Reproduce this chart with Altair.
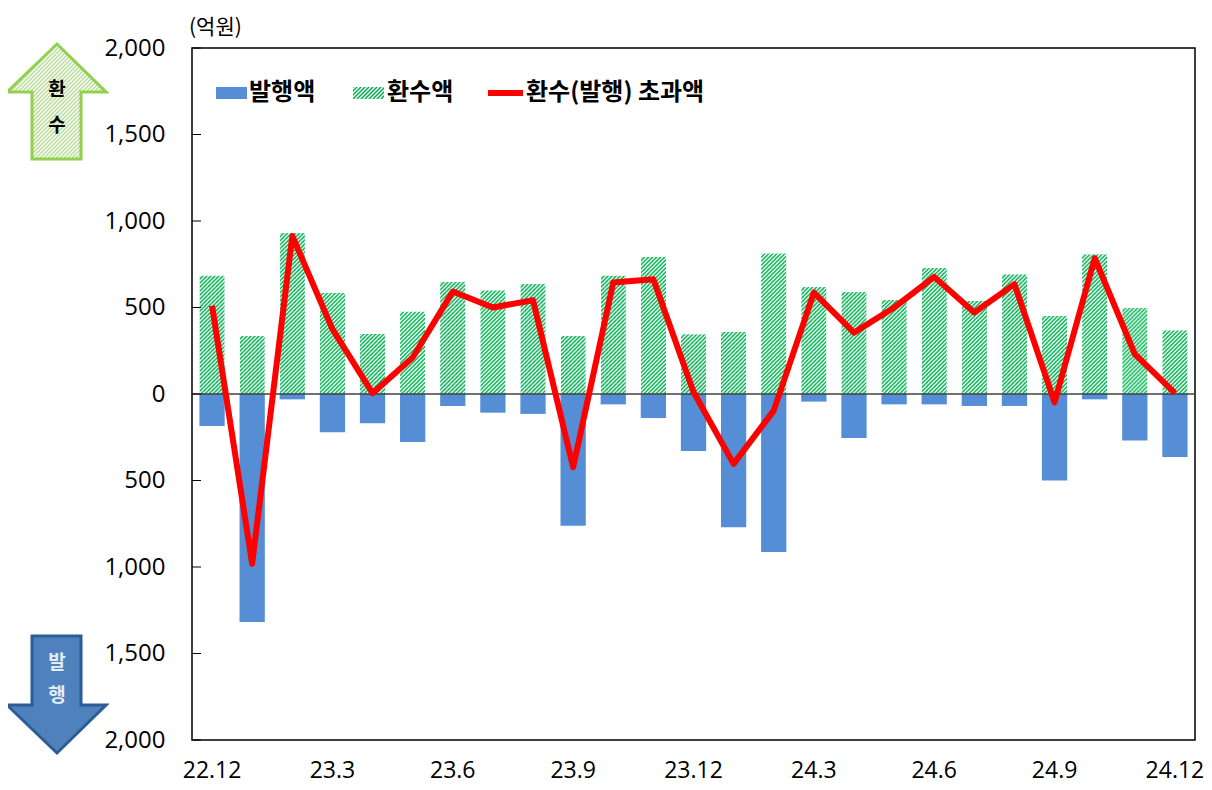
import altair as alt
import pandas as pd
from urllib.parse import quote

# ---- data ----
months = ["22.12", "23.1", "23.2", "23.3", "23.4", "23.5", "23.6", "23.7", "23.8", "23.9",
          "23.10", "23.11", "23.12", "24.1", "24.2", "24.3", "24.4", "24.5", "24.6", "24.7",
          "24.8", "24.9", "24.10", "24.11", "24.12"]
recall = [685, 338, 930, 585, 347, 477, 648, 600, 638, 338,
          685, 792, 346, 359, 813, 621, 592, 544, 730, 538,
          692, 452, 808, 500, 369]
issue = [-185, -1318, -31, -221, -169, -277, -69, -108, -115, -762,
         -60, -139, -329, -770, -914, -44, -254, -60, -60, -69,
         -69, -500, -31, -269, -364]
net = [510, -981, 913, 375, 5, 211, 592, 500, 542, -423,
       644, 663, 12, -404, -96, 586, 355, 500, 677, 471,
       635, -48, 785, 231, 5]

tick_values = [-2000, -1500, -1000, -500, 0, 500, 1000, 1500, 2000]
x_label_values = ["22.12", "23.3", "23.6", "23.9", "23.12", "24.3", "24.6", "24.9", "24.12"]
legend_labels = ["발행액", "환수액", "환수(발행) 초과액"]
unit_label = "(억원)"
up_text = ["환", "수"]
down_text = ["발", "행"]

df = pd.DataFrame({"month": months, "recall": recall, "issue": issue, "net": net})
ticks_df = pd.DataFrame({"v": tick_values})
one = pd.DataFrame({"a": [0]})

NUM_FONT = "Open Sans"
KR_FONT = "Noto Sans CJK KR"


def svg_url(s):
    return "data:image/svg+xml;charset=utf-8," + quote(s)


HATCH = svg_url(
    "<svg xmlns='http://www.w3.org/2000/svg' width='100%' height='100%'>"
    "<defs><pattern id='h' width='4' height='4' patternUnits='userSpaceOnUse'>"
    "<rect width='4' height='4' fill='#ffffff'/>"
    "<path d='M-1,1 l2,-2 M0,4 l4,-4 M3,5 l2,-2' stroke='#00b050' stroke-width='1.5'/>"
    "</pattern></defs><rect width='100%' height='100%' fill='url(#h)'/></svg>"
)
UP_ARROW = svg_url(
    "<svg xmlns='http://www.w3.org/2000/svg' width='104' height='121' viewBox='0 0 104 121'>"
    "<defs><pattern id='g' width='4' height='4' patternUnits='userSpaceOnUse'>"
    "<rect width='4' height='4' fill='#ffffff'/>"
    "<path d='M-1,1 l2,-2 M0,4 l4,-4 M3,5 l2,-2' stroke='#b9dc98' stroke-width='1.5'/>"
    "</pattern></defs>"
    "<polygon points='52,3 101,51 76,51 76,118 27,118 27,51 2,51' fill='url(#g)' "
    "stroke='#92d050' stroke-width='3'/></svg>"
)
DOWN_ARROW = svg_url(
    "<svg xmlns='http://www.w3.org/2000/svg' width='104' height='123' viewBox='0 0 104 123'>"
    "<polygon points='27,3 76,3 76,72 101,72 52,120 2,72 27,72' fill='#4f81bd' "
    "stroke='#2c5d96' stroke-width='3'/></svg>"
)

xscale = alt.Scale(domain=months, paddingInner=0.37, paddingOuter=0.185)
yscale = alt.Scale(domain=[-2000, 2000], nice=False, zero=False)

x_axis = alt.Axis(values=x_label_values, title=None, ticks=False, tickSize=0, domain=False,
                  labelAngle=0, labelFont=NUM_FONT, labelFontSize=23, labelColor="#000000",
                  labelPadding=30, labelBaseline="middle", grid=False)
y_axis = alt.Axis(values=tick_values, title=None, ticks=False, tickSize=0, domain=False,
                  labelExpr="format(abs(datum.value), ',')", labelFont=NUM_FONT,
                  labelFontSize=24, labelColor="#000000", labelPadding=27, grid=False)

X = alt.X("month:N", sort=months, scale=xscale, axis=x_axis)

green = alt.Chart(df).mark_image(aspect=False).encode(
    x=X,
    y=alt.Y("recall:Q", scale=yscale, axis=y_axis),
    y2=alt.datum(0),
    url=alt.value(HATCH),
)

blue = alt.Chart(df).mark_bar(color="#558ed5").encode(
    x=X,
    y=alt.Y("issue:Q", scale=yscale, axis=y_axis),
    y2=alt.datum(0),
)

zero = alt.Chart(one).mark_rule(color="#404040", strokeWidth=1.5).encode(
    y=alt.Y("a:Q", scale=yscale, axis=y_axis)
)

inner_ticks = alt.Chart(ticks_df).mark_rule(color="#000000", strokeWidth=1).encode(
    y=alt.Y("v:Q", scale=yscale, axis=y_axis),
    x=alt.value(0),
    x2=alt.value(9),
)

line = alt.Chart(df).mark_line(color="#ff0000", strokeWidth=6, strokeJoin="round").encode(
    x=X,
    y=alt.Y("net:Q", scale=yscale, axis=y_axis),
)

# ---- legend ----
leg_blue = alt.Chart(one).mark_rect(color="#558ed5").encode(
    x=alt.value(24), x2=alt.value(55), y=alt.value(39), y2=alt.value(51))
leg_green = alt.Chart(one).mark_image(aspect=False).encode(
    x=alt.value(161), x2=alt.value(192), y=alt.value(39), y2=alt.value(51),
    url=alt.value(HATCH))
leg_red = alt.Chart(one).mark_rule(color="#ff0000", strokeWidth=6).encode(
    x=alt.value(296), x2=alt.value(331), y=alt.value(45))

leg_text_style = dict(font=KR_FONT, fontWeight="bold", fontSize=24, align="left",
                      baseline="middle", color="#000000")
leg_t1 = alt.Chart(one).mark_text(text=legend_labels[0], **leg_text_style).encode(
    x=alt.value(57), y=alt.value(45))
leg_t2 = alt.Chart(one).mark_text(text=legend_labels[1], **leg_text_style).encode(
    x=alt.value(195), y=alt.value(45))
leg_t3 = alt.Chart(one).mark_text(text=legend_labels[2], **leg_text_style).encode(
    x=alt.value(334), y=alt.value(45))

unit = alt.Chart(one).mark_text(text=unit_label, font=KR_FONT, fontSize=21, align="left",
                                baseline="middle", color="#000000").encode(
    x=alt.value(-3), y=alt.value(-20))

# ---- side arrows ----
up_arrow = alt.Chart(one).mark_image(aspect=False).encode(
    x=alt.value(-187), x2=alt.value(-83), y=alt.value(-7), y2=alt.value(114),
    url=alt.value(UP_ARROW))
down_arrow = alt.Chart(one).mark_image(aspect=False).encode(
    x=alt.value(-187), x2=alt.value(-83), y=alt.value(585), y2=alt.value(708),
    url=alt.value(DOWN_ARROW))

arrow_style = dict(font=KR_FONT, fontWeight="bold", fontSize=19, align="center",
                   baseline="middle")
up1 = alt.Chart(one).mark_text(text=up_text[0], color="#000000", **arrow_style).encode(
    x=alt.value(-135), y=alt.value(42))
up2 = alt.Chart(one).mark_text(text=up_text[1], color="#000000", **arrow_style).encode(
    x=alt.value(-135), y=alt.value(78))
dn1 = alt.Chart(one).mark_text(text=down_text[0], color="#e3edf8", **arrow_style).encode(
    x=alt.value(-135), y=alt.value(615))
dn2 = alt.Chart(one).mark_text(text=down_text[1], color="#e3edf8", **arrow_style).encode(
    x=alt.value(-135), y=alt.value(648))

chart = alt.layer(
    green, blue, zero, inner_ticks, line,
    leg_blue, leg_green, leg_red, leg_t1, leg_t2, leg_t3, unit,
    up_arrow, down_arrow, up1, up2, dn1, dn2,
).properties(
    width=1003, height=692,
    padding={"left": 184, "top": 40, "right": 9, "bottom": 50},
    autosize=alt.AutoSizeParams(type="none"),
    background="#ffffff",
).configure_view(stroke="#000000", strokeWidth=1.5)

chart.save("out.html", embed_options={"renderer": "svg", "actions": False})
